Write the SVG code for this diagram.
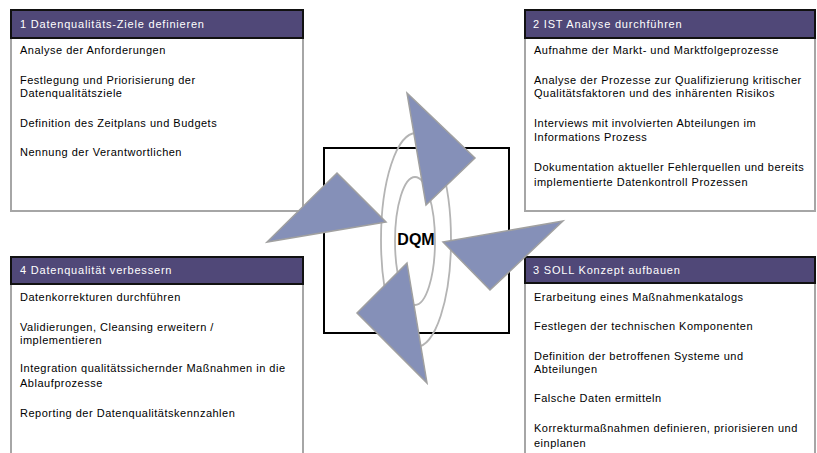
<svg xmlns="http://www.w3.org/2000/svg" width="817" height="453" viewBox="0 0 817 453">
<style>
.body{fill:#ffffff;stroke:#a6a6a6;stroke-width:2}
.hdr{fill:#504878;stroke:#111111;stroke-width:2}
.ht{font-family:"Liberation Sans",Arial,sans-serif;font-size:11px;fill:#ffffff;letter-spacing:0.8px}
.bt{font-family:"Liberation Sans",Arial,sans-serif;font-size:11px;fill:#000000;letter-spacing:0.5px}
.arr{fill:#8590b8;stroke:#a0a0a0;stroke-width:1.5;stroke-linejoin:miter}
.ell{fill:none;stroke:#b4b4b4;stroke-width:1.8}
</style>
<rect width="817" height="453" fill="#ffffff"/>
<g id="box1">
<rect class="body" x="11" y="38" width="292" height="173"/>
<rect class="hdr" x="11" y="10" width="292" height="28"/>
<text class="ht" x="20" y="28">1 Datenqualitäts-Ziele definieren</text>
<text class="bt" x="20" y="54">Analyse der Anforderungen</text>
<text class="bt" x="20" y="84">Festlegung und Priorisierung der</text>
<text class="bt" x="20" y="97">Datenqualitätsziele</text>
<text class="bt" x="20" y="127">Definition des Zeitplans und Budgets</text>
<text class="bt" x="20" y="156">Nennung der Verantwortlichen</text>
</g>
<g id="box2">
<rect class="body" x="525" y="38" width="290" height="173"/>
<rect class="hdr" x="525" y="10" width="290" height="28"/>
<text class="ht" x="533" y="28">2 IST Analyse durchführen</text>
<text class="bt" x="534" y="54">Aufnahme der Markt- und Marktfolgeprozesse</text>
<text class="bt" x="534" y="84">Analyse der Prozesse zur Qualifizierung kritischer</text>
<text class="bt" x="534" y="97">Qualitätsfaktoren und des inhärenten Risikos</text>
<text class="bt" x="534" y="127">Interviews mit involvierten Abteilungen im</text>
<text class="bt" x="534" y="141">Informations Prozess</text>
<text class="bt" x="534" y="171">Dokumentation aktueller Fehlerquellen und bereits</text>
<text class="bt" x="534" y="186">implementierte Datenkontroll Prozessen</text>
</g>
<g id="box4">
<rect class="body" x="11" y="284" width="292" height="180"/>
<rect class="hdr" x="11" y="257" width="292" height="27"/>
<text class="ht" x="20" y="274">4 Datenqualität verbessern</text>
<text class="bt" x="20" y="301">Datenkorrekturen durchführen</text>
<text class="bt" x="20" y="331">Validierungen, Cleansing erweitern /</text>
<text class="bt" x="20" y="344">implementieren</text>
<text class="bt" x="20" y="372">Integration qualitätssichernder Maßnahmen in die</text>
<text class="bt" x="20" y="387">Ablaufprozesse</text>
<text class="bt" x="20" y="417">Reporting der Datenqualitätskennzahlen</text>
</g>
<g id="box3">
<rect class="body" x="525" y="283" width="290" height="180"/>
<rect class="hdr" x="525" y="257" width="290" height="26"/>
<text class="ht" x="533" y="274">3 SOLL Konzept aufbauen</text>
<text class="bt" x="534" y="301">Erarbeitung eines Maßnahmenkatalogs</text>
<text class="bt" x="534" y="330">Festlegen der technischen Komponenten</text>
<text class="bt" x="534" y="360">Definition der betroffenen Systeme und</text>
<text class="bt" x="534" y="373">Abteilungen</text>
<text class="bt" x="534" y="402">Falsche Daten ermitteln</text>
<text class="bt" x="534" y="432">Korrekturmaßnahmen definieren, priorisieren und</text>
<text class="bt" x="534" y="447">einplanen</text>
</g>
<g id="dqm">
<rect x="324" y="148" width="185" height="185" fill="#ffffff" stroke="#000000" stroke-width="2"/>
<ellipse class="ell" cx="416" cy="240" rx="35" ry="107"/>
<ellipse class="ell" cx="415" cy="241" rx="20" ry="64"/>
<text x="416" y="245" text-anchor="middle" font-family="Liberation Sans,Arial,sans-serif" font-size="16" font-weight="bold" fill="#000000">DQM</text>
</g>
<g id="connectors">
<polygon class="arr" points="407,93 475,158 426,205"/>
<polygon class="arr" points="563,221 443,242 490,290"/>
<polygon class="arr" points="407,263 357,313 427,383"/>
<polygon class="arr" points="337,173 386,222 267,242"/>
</g>
</svg>
